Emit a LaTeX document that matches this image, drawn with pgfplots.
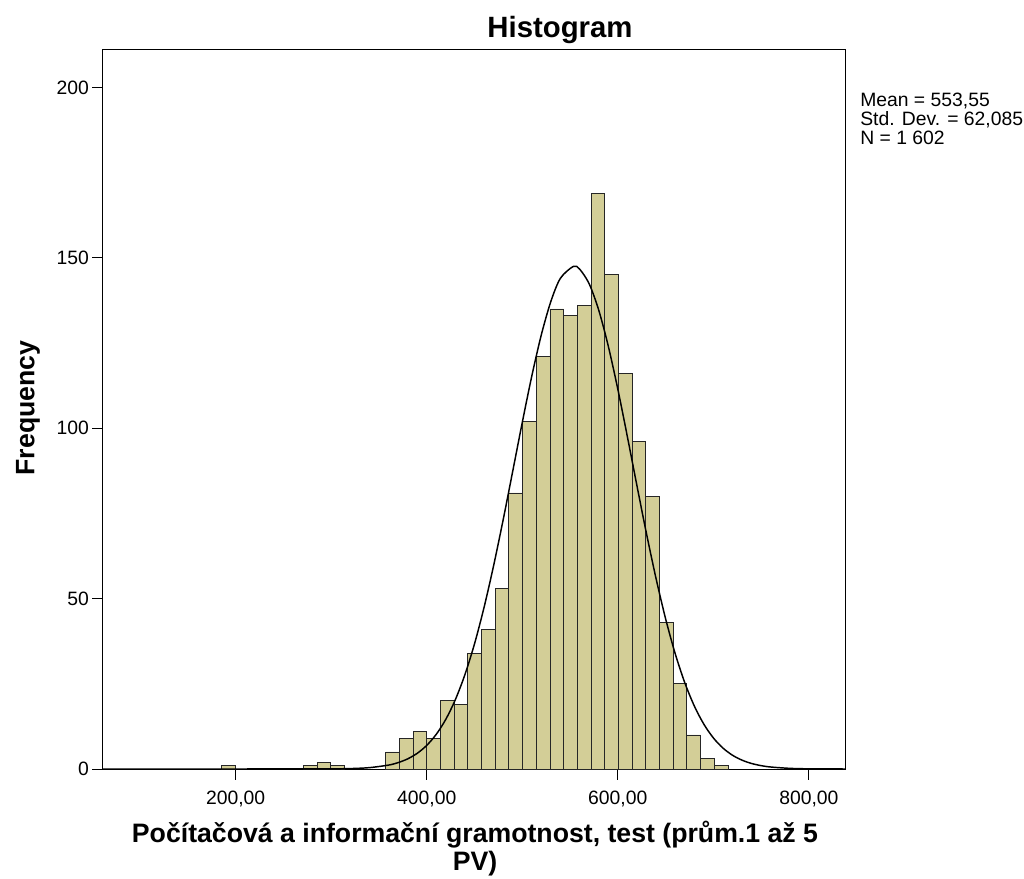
\documentclass[border=0pt]{standalone}
\usepackage{pgfplots}
\pgfplotsset{compat=1.18}
\usepackage{fontspec}
\setmainfont{Liberation Sans}
\definecolor{barfill}{RGB}{211,206,151}
\begin{document}
\begin{tikzpicture}[x=0.75pt,y=0.75pt]
\useasboundingbox (-103,-109) rectangle (921,769);
\begin{axis}[at={(0,0)}, anchor=south west, scale only axis,
  width=556.5pt, height=539.25pt,
  xmin=61.2, xmax=837.8, ymin=0, ymax=211,
  xtick={200,400,600,800},
  xticklabels={{200,00},{400,00},{600,00},{800,00}},
  ytick={0,50,100,150,200},
  xtick pos=bottom, ytick pos=left, tick align=outside,
  major tick length=8pt,
  tick style={black, line width=0.75pt},
  axis line style={black, line width=0.75pt},
  ticklabel style={font=\fontsize{14.5}{16}\selectfont},
  xticklabel style={yshift=-5pt},
  yticklabel style={xshift=1pt},
  /pgf/number format/assume math mode=true,
  clip=false]
\addplot[ybar interval, fill=barfill, draw=black!85, line width=0.6pt] coordinates {
(185.05,1) (199.38,0)};
\addplot[ybar interval, fill=barfill, draw=black!85, line width=0.6pt] coordinates {
(271.03,1) (285.36,2) (299.69,1) (314.02,0)};
\addplot[ybar interval, fill=barfill, draw=black!85, line width=0.6pt] coordinates {
(357.01,5) (371.34,9) (385.67,11) (400.00,9) (414.33,20) (428.66,19)
(442.99,34) (457.32,41) (471.65,53) (485.98,81) (500.31,102) (514.64,121)
(528.97,135) (543.30,133) (557.63,136) (571.96,169) (586.29,145) (600.62,116)
(614.95,96) (629.28,80) (643.61,43) (657.94,25) (672.27,10) (686.60,3)
(700.93,1) (715.26,0)};
\addplot[black, line width=1.1pt, smooth] coordinates {
(61.2,0) (280,0.01) (300,0.035) (320,0.125) (340,0.398) (360,1.144) (370,1.865)
(380,2.964) (390,4.589) (400,6.925) (410,10.18) (420,14.59) (430,20.36)
(440,27.70) (450,36.70) (460,47.40) (470,59.64) (480,73.12) (490,87.35)
(500,101.68) (510,115.33) (520,127.46) (530,137.26) (540,144.03) (553.55,147.5)
(560,146.71) (570,142.41) (580,134.70) (590,124.15) (600,111.49) (610,97.56)
(620,83.19) (630,69.11) (640,55.95) (650,44.13) (660,33.92) (670,25.40)
(680,18.54) (690,13.18) (700,9.13) (710,6.16) (720,4.05) (730,2.60)
(740,1.62) (750,0.987) (760,0.586) (780,0.191) (800,0.056) (837.8,0.003)};
\end{axis}
\node[anchor=base, font=\bfseries\fontsize{22}{24}\selectfont] at (457,731) {Histogram};
\node[anchor=north west, inner sep=0pt, align=left,
  font=\fontsize{14.5}{14.2}\selectfont] at (757,676)
  {Mean = 553,55\\Std. Dev. = 62,085\\N = 1 602};
\node[rotate=90, font=\bfseries\fontsize{20}{22}\selectfont] at (-75,361) {Frequency};
\node[anchor=base, font=\bfseries\fontsize{20}{22}\selectfont] at (372,-73)
  {Počítačová a informační gramotnost, test (prům.1 až 5};
\node[anchor=base, font=\bfseries\fontsize{20}{22}\selectfont] at (372,-101) {PV)};
\end{tikzpicture}
\end{document}
